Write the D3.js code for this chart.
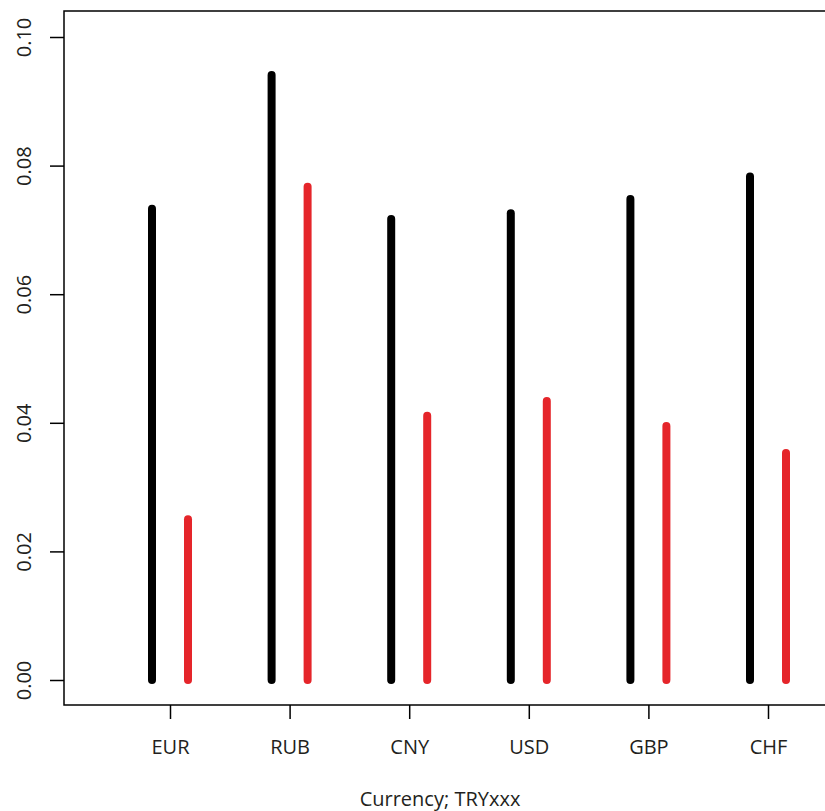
<!DOCTYPE html>
<html><head><meta charset="utf-8">
<script src="https://cdn.jsdelivr.net/npm/d3@7"></script>
<style>body{margin:0;background:#fff;} svg{display:block;} text{font-family:"Open Sans",sans-serif;fill:#231f20;}</style>
</head><body>
<svg id="c" width="825" height="811"></svg>
<script>
const categories = ["EUR","RUB","CNY","USD","GBP","CHF"];
const seriesA = [0.0733,0.0941,0.0717,0.0726,0.0748,0.0783]; // black
const seriesB = [0.0250,0.0767,0.0411,0.0434,0.0395,0.0353]; // red
const yTicks = [0.00,0.02,0.04,0.06,0.08,0.10];
const xTitle = "Currency; TRYxxx";

const svg = d3.select("#c");
const box = {left:64, right:832, top:11, bottom:705};
const y = d3.scaleLinear().domain([0,0.10]).range([680,37]);
const x = d3.scalePoint().domain(categories).range([170,768]);
const off = 18;

svg.append("rect").attr("x",box.left).attr("y",box.top)
  .attr("width",box.right-box.left).attr("height",box.bottom-box.top)
  .attr("fill","none").attr("stroke","#000").attr("stroke-width",1.5);

const g = svg.append("g");
g.selectAll("line.a").data(categories).enter().append("line")
  .attr("x1",d=>x(d)-off).attr("x2",d=>x(d)-off)
  .attr("y1",y(0)).attr("y2",(d,i)=>y(seriesA[i]))
  .attr("stroke","#000").attr("stroke-width",8).attr("stroke-linecap","round");
g.selectAll("line.b").data(categories).enter().append("line")
  .attr("x1",d=>x(d)+off).attr("x2",d=>x(d)+off)
  .attr("y1",y(0)).attr("y2",(d,i)=>y(seriesB[i]))
  .attr("stroke","#e5252a").attr("stroke-width",8).attr("stroke-linecap","round");

// y axis
const ya = svg.append("g").attr("transform",`translate(${box.left},0)`)
  .call(d3.axisLeft(y).tickValues(yTicks).tickSize(14).tickFormat(d3.format(".2f")));
ya.select(".domain").remove();
ya.selectAll(".tick line").attr("stroke","#000").attr("stroke-width",1.5);
ya.selectAll(".tick text").attr("x",null).attr("dy",null)
  .attr("transform","translate(-33,0) rotate(-90)")
  .attr("text-anchor","middle").attr("font-size",20).attr("fill","#231f20")
  .attr("font-family","'Open Sans',sans-serif");

// x axis
const xa = svg.append("g").attr("transform",`translate(0,${box.bottom})`)
  .call(d3.axisBottom(x).tickSize(14).tickSizeOuter(0));
xa.select(".domain").remove();
xa.selectAll(".tick line").attr("stroke","#000").attr("stroke-width",1.5);
xa.selectAll(".tick text").attr("dy",null).attr("y",49)
  .attr("font-size",20).attr("fill","#231f20").attr("font-family","'Open Sans',sans-serif");

svg.append("text").attr("x",440).attr("y",806).attr("text-anchor","middle")
  .attr("font-size",20).text(xTitle);
</script>
</body></html>
